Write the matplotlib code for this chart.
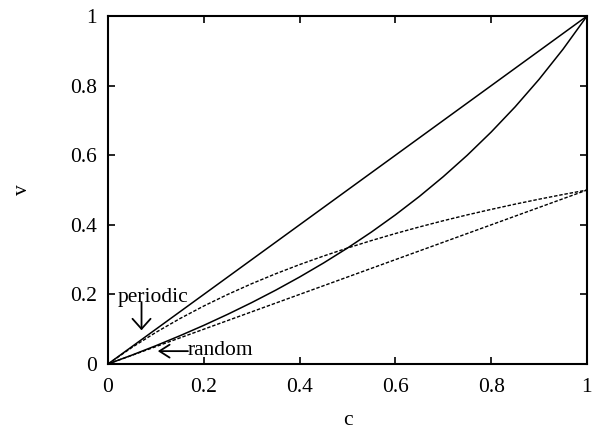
import matplotlib
matplotlib.use("Agg")
import matplotlib.pyplot as plt

c = [0, 0.05, 0.1, 0.15, 0.2, 0.25, 0.3, 0.35, 0.4, 0.45, 0.5,
     0.55, 0.6, 0.65, 0.7, 0.75, 0.8, 0.85, 0.9, 0.95, 1]

# periodic (solid) and random (dashed), upper and lower branches
per_top = [0, 0.05, 0.1, 0.15, 0.2, 0.25, 0.3, 0.35, 0.4, 0.45, 0.5,
           0.55, 0.6, 0.65, 0.7, 0.75, 0.8, 0.85, 0.9, 0.95, 1]
per_low = [0, 0.0256, 0.0526, 0.0811, 0.1111, 0.1429, 0.1765, 0.2121, 0.25, 0.2903, 0.3333,
           0.3793, 0.4286, 0.4815, 0.5385, 0.6, 0.6667, 0.7391, 0.8182, 0.9048, 1]
rnd_top = [0, 0.0476, 0.0909, 0.1304, 0.1667, 0.2, 0.2308, 0.2593, 0.2857, 0.3103, 0.3333,
           0.3548, 0.375, 0.3939, 0.4118, 0.4286, 0.4444, 0.4595, 0.4737, 0.4872, 0.5]
rnd_low = [0, 0.025, 0.05, 0.075, 0.1, 0.125, 0.15, 0.175, 0.2, 0.225, 0.25,
           0.275, 0.3, 0.325, 0.35, 0.375, 0.4, 0.425, 0.45, 0.475, 0.5]

ticks = [0, 0.2, 0.4, 0.6, 0.8, 1]
tick_labels = ['0', '0.2', '0.4', '0.6', '0.8', '1']

plt.rcParams['font.family'] = ['Liberation Serif', 'DejaVu Serif']
plt.rcParams['font.size'] = 15.5

fig = plt.figure(figsize=(5.95, 4.29), dpi=100)
ax = fig.add_axes([0.1815, 0.1515, 0.805, 0.811])

ax.plot(c, per_top, color='black', lw=1.1)
ax.plot(c, per_low, color='black', lw=1.1)
ax.plot(c, rnd_top, color='black', lw=1.0, dashes=(2.5, 1.3))
ax.plot(c, rnd_low, color='black', lw=1.0, dashes=(2.5, 1.3))

ax.set_xlim(0, 1)
ax.set_ylim(0, 1)
ax.set_xticks(ticks)
ax.set_xticklabels(tick_labels)
ax.set_yticks(ticks)
ax.set_yticklabels(tick_labels)
ax.tick_params(direction='in', top=True, right=True, length=5, width=1.2)
ax.tick_params(axis='x', pad=10)
ax.tick_params(axis='y', pad=8)
for s in ax.spines.values():
    s.set_linewidth(1.5)

ax.set_xlabel('c', labelpad=10)
ax.set_ylabel('v', labelpad=27)

arrow_p = dict(arrowstyle='->,head_length=0.47,head_width=0.42', color='black', lw=1.3, shrinkA=0, shrinkB=0)
arrow_r = dict(arrowstyle='->,head_length=0.47,head_width=0.3', color='black', lw=1.3, shrinkA=0, shrinkB=0)
ax.annotate('', xy=(0.070, 0.097), xytext=(0.070, 0.177), arrowprops=arrow_p)
ax.text(0.02, 0.19, 'periodic', ha='left', va='center')
ax.annotate('', xy=(0.104, 0.037), xytext=(0.167, 0.037), arrowprops=arrow_r)
ax.text(0.167, 0.04, 'random', ha='left', va='center')

fig.savefig('out.png', dpi=100)
